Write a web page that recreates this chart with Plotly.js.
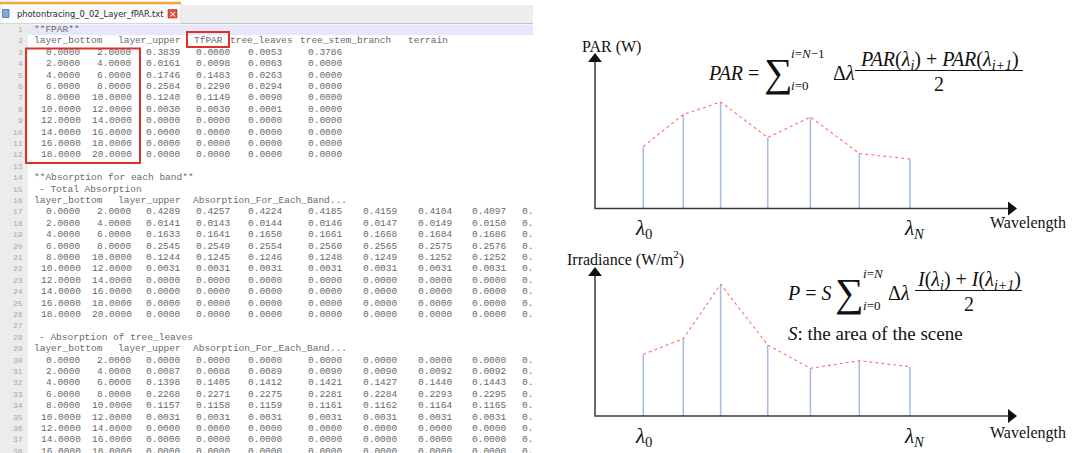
<!DOCTYPE html>
<html><head><meta charset="utf-8">
<script src="https://cdn.plot.ly/plotly-3.0.1.min.js"></script>
<style>html,body{margin:0;padding:0;background:#fff;overflow:hidden}#chart{width:1077px;height:453px}</style>
</head><body><div id="chart"></div>
<script>
// ================= DATA =================
const fileName = 'photontracing_0_02_Layer_fPAR.txt';
const fparTitle = '**FPAR**';
const fparHeader = ['layer_bottom', 'layer_upper', 'TfPAR', 'tree_leaves', 'tree_stem_branch', 'terrain'];
const layerBottom = [0, 2, 4, 6, 8, 10, 12, 14, 16, 18];
const layerUpper = [2, 4, 6, 8, 10, 12, 14, 16, 18, 20];
const fparTotal = [0.3839, 0.0161, 0.1746, 0.2584, 0.1240, 0.0030, 0.0000, 0.0000, 0.0000, 0.0000];
const fparTf = [0.0000, 0.0098, 0.1483, 0.2290, 0.1149, 0.0030, 0.0000, 0.0000, 0.0000, 0.0000];
const fparLeaves = [0.0053, 0.0063, 0.0263, 0.0294, 0.0090, 0.0001, 0.0000, 0.0000, 0.0000, 0.0000];
const fparStem = [0.3786, 0.0000, 0.0000, 0.0000, 0.0000, 0.0000, 0.0000, 0.0000, 0.0000, 0.0000];

const bandTitle = '**Absorption for each band**';
const totalTitle = '- Total Absorption';
const leavesTitle = '- Absorption of tree_leaves';
const bandHeader = ['layer_bottom', 'layer_upper', 'Absorption_For_Each_Band...'];
const truncatedCell = '0.';
const totalAbsorption = [
  [0.4289, 0.4257, 0.4224, 0.4185, 0.4159, 0.4104, 0.4097],
  [0.0141, 0.0143, 0.0144, 0.0146, 0.0147, 0.0149, 0.0150],
  [0.1633, 0.1641, 0.1650, 0.1661, 0.1668, 0.1684, 0.1686],
  [0.2545, 0.2549, 0.2554, 0.2560, 0.2565, 0.2575, 0.2576],
  [0.1244, 0.1245, 0.1246, 0.1248, 0.1249, 0.1252, 0.1252],
  [0.0031, 0.0031, 0.0031, 0.0031, 0.0031, 0.0031, 0.0031],
  [0.0000, 0.0000, 0.0000, 0.0000, 0.0000, 0.0000, 0.0000],
  [0.0000, 0.0000, 0.0000, 0.0000, 0.0000, 0.0000, 0.0000],
  [0.0000, 0.0000, 0.0000, 0.0000, 0.0000, 0.0000, 0.0000],
  [0.0000, 0.0000, 0.0000, 0.0000, 0.0000, 0.0000, 0.0000]
];
const leavesAbsorption = [
  [0.0000, 0.0000, 0.0000, 0.0000, 0.0000, 0.0000, 0.0000],
  [0.0087, 0.0088, 0.0089, 0.0090, 0.0090, 0.0092, 0.0092],
  [0.1398, 0.1405, 0.1412, 0.1421, 0.1427, 0.1440, 0.1443],
  [0.2268, 0.2271, 0.2275, 0.2281, 0.2284, 0.2293, 0.2295],
  [0.1157, 0.1158, 0.1159, 0.1161, 0.1162, 0.1164, 0.1165],
  [0.0031, 0.0031, 0.0031, 0.0031, 0.0031, 0.0031, 0.0031],
  [0.0000, 0.0000, 0.0000, 0.0000, 0.0000, 0.0000, 0.0000],
  [0.0000, 0.0000, 0.0000, 0.0000, 0.0000, 0.0000, 0.0000],
  [0.0000, 0.0000, 0.0000, 0.0000, 0.0000, 0.0000, 0.0000]
];

// schematic spectra (wavelength in nm, arbitrary units)
const wavelength = [400, 445, 487, 540, 588, 643, 700];
const parW = [0.62, 0.94, 1.065, 0.71, 0.915, 0.55, 0.495];
const irradiance = [0.617, 0.773, 1.317, 0.71, 0.477, 0.553, 0.493];

const parLabel = 'PAR (W)';
const irrLabel = 'Irradiance (W/m<sup>2</sup>)';
const xLabel = 'Wavelength';
const sceneNote = '<i>S</i>: the area of the scene';

// ================= LAYOUT CONSTANTS =================
const W = 1077, H = 453;
const MONO = 'Liberation Mono, Courier New, monospace';
const SERIF = 'Liberation Serif, Times New Roman, serif';
const SANS = 'DejaVu Sans, Tahoma, sans-serif';
const TXT = '#6a6a6a';
const ROW0 = 29.5, ROWH = 11.4;
const rowY = n => ROW0 + (n - 1) * ROWH;
const COL_R = [82, 133];
const COL_L = [145, 195, 247, 307, 362, 417, 471, 521];
const FPAR_HDR_X = [33, 117, 193, 229, 299, 407];
const BAND_HDR_X = [33, 117, 192];
const f4 = v => v.toFixed(4);

const annotations = [];
const shapes = [];
function ann(x, y, text, o) {
  annotations.push(Object.assign({x: x, y: y, xref: 'x', yref: 'y', text: text, showarrow: false,
    xanchor: 'left', yanchor: 'middle', borderpad: 0,
    font: {family: MONO, size: 9.5, color: TXT}}, o || {}));
}
function rect(x0, y0, x1, y1, o) {
  shapes.push(Object.assign({type: 'rect', xref: 'x', yref: 'y', x0: x0, y0: y0, x1: x1, y1: y1,
    line: {width: 0}, layer: 'below'}, o || {}));
}
function hline(x0, x1, y, o) {
  shapes.push(Object.assign({type: 'line', xref: 'x', yref: 'y', x0: x0, x1: x1, y0: y, y1: y,
    line: {color: '#000', width: 1}}, o || {}));
}

// ---------- editor chrome ----------
rect(0, 5, 533, 23.5, {fillcolor: '#eeeeee'});
hline(0, 533, 23.5, {line: {color: '#c4c4c4', width: 1}, layer: 'below'});
rect(0, 3, 181, 23.5, {fillcolor: '#fbfbfb', line: {color: '#cfcfcf', width: 0.6}});
hline(0, 181, 3, {line: {color: '#f5a43c', width: 2.5}});
rect(28, 24.5, 533, 35.3, {fillcolor: '#e7e7fb'});
rect(0, 24, 28, H, {fillcolor: '#ececec'});
rect(2.5, 9.5, 9, 17.5, {fillcolor: '#86a8dc', line: {color: '#3f6db5', width: 0.8}, layer: 'above'});
rect(168, 9.5, 177, 18, {fillcolor: '#e05043', line: {color: '#b02a20', width: 0.6}, layer: 'above'});
ann(172.5, 13.7, '×', {xanchor: 'center', font: {family: SANS, size: 9, color: '#ffffff'}});
ann(16, 13.5, fileName, {font: {family: SANS, size: 8.3, color: '#2c2c2c'}});

// ---------- text file ----------
const lastRow = 38;
for (let n = 1; n <= lastRow; n++) {
  ann(24, rowY(n), String(n), {xanchor: 'right', font: {family: MONO, size: 8, color: '#a8a8a8'}});
}
ann(33, rowY(1), fparTitle);
fparHeader.forEach((h, i) => ann(FPAR_HDR_X[i], rowY(2), h));
layerBottom.forEach((lb, i) => {
  const y = rowY(3 + i);
  ann(COL_R[0], y, f4(lb), {xanchor: 'right'});
  ann(COL_R[1], y, f4(layerUpper[i]), {xanchor: 'right'});
  [fparTotal[i], fparTf[i], fparLeaves[i], fparStem[i]].forEach((v, k) => ann(COL_L[k], y, f4(v)));
});
ann(33, rowY(14), bandTitle);
function bandBlock(titleRow, title, rows) {
  ann(38, rowY(titleRow), title);
  bandHeader.forEach((h, i) => ann(BAND_HDR_X[i], rowY(titleRow + 1), h));
  rows.forEach((vals, i) => {
    const y = rowY(titleRow + 2 + i);
    ann(COL_R[0], y, f4(layerBottom[i]), {xanchor: 'right'});
    ann(COL_R[1], y, f4(layerUpper[i]), {xanchor: 'right'});
    vals.forEach((v, k) => ann(COL_L[k], y, f4(v)));
    ann(COL_L[7], y, truncatedCell);
  });
}
bandBlock(15, totalTitle, totalAbsorption);
bandBlock(28, leavesTitle, leavesAbsorption);

// red highlight boxes
rect(26, 48.5, 140, 163, {fillcolor: 'rgba(0,0,0,0)', line: {color: '#e0302a', width: 2}, layer: 'above'});
rect(187, 32, 229, 47, {fillcolor: 'rgba(0,0,0,0)', line: {color: '#e0302a', width: 2}, layer: 'above'});

// ---------- diagrams ----------
const X_RANGE = [306.3, 887.9];      // nm, spanning px 560..1077
const NM_PER_PX = 1.125, Y_PER_PX = 0.01;
const X_ORIGIN = 345.7, X_TIP = 820.4;
const STEM = '#a9bde8', CURVE = '#ff6f6f', AXC = '#3a3a3a';

function stems(xs, ys) {
  const X = [], Y = [];
  xs.forEach((x, i) => { X.push(x, x, null); Y.push(0, ys[i], null); });
  return {X: X, Y: Y};
}
function diagram(xa, ya, vals, yTip, yLam, yWave, label, labelX, labelY) {
  const s = stems(wavelength, vals);
  const axisEnd = 6;   // px the arrowhead reaches past the marker centre
  const traces = [
    {type: 'scatter', mode: 'lines', x: s.X, y: s.Y, xaxis: xa, yaxis: ya,
     line: {color: STEM, width: 1.6}, hoverinfo: 'skip'},
    {type: 'scatter', mode: 'lines', x: wavelength, y: vals, xaxis: xa, yaxis: ya,
     line: {color: CURVE, width: 1.1, dash: 'dot'}, hoverinfo: 'skip'},
    // axes
    {type: 'scatter', mode: 'lines', x: [X_TIP - axisEnd * NM_PER_PX, X_ORIGIN, X_ORIGIN],
     y: [0, 0, yTip - axisEnd * Y_PER_PX], xaxis: xa, yaxis: ya,
     line: {color: AXC, width: 1.5}, hoverinfo: 'skip'},
    {type: 'scatter', mode: 'markers', x: [X_TIP - axisEnd * NM_PER_PX], y: [0], xaxis: xa, yaxis: ya,
     marker: {symbol: 'triangle-right', size: 12, color: '#111', line: {width: 0}}, hoverinfo: 'skip'},
    {type: 'scatter', mode: 'markers', x: [X_ORIGIN], y: [yTip - axisEnd * Y_PER_PX], xaxis: xa, yaxis: ya,
     marker: {symbol: 'triangle-up', size: 12, color: '#111', line: {width: 0}}, hoverinfo: 'skip'}
  ];
  const ref = {xref: xa, yref: ya};
  const serif = {family: SERIF, size: 16, color: '#111'};
  annotations.push(Object.assign({}, ref, {x: labelX, y: labelY, text: label, showarrow: false,
    xanchor: 'left', yanchor: 'middle', font: serif}));
  annotations.push(Object.assign({}, ref, {x: 787.8, y: yWave, text: xLabel, showarrow: false,
    xanchor: 'left', yanchor: 'middle', font: serif}));
  const lam = {family: SERIF, size: 21, color: '#111'};
  annotations.push(Object.assign({}, ref, {x: wavelength[0], y: yLam, text: '<i>λ</i><sub>0</sub>',
    showarrow: false, xanchor: 'center', yanchor: 'middle', font: lam}));
  annotations.push(Object.assign({}, ref, {x: wavelength[wavelength.length - 1] + 5, y: yLam,
    text: '<i>λ<sub>N</sub></i>', showarrow: false, xanchor: 'center', yanchor: 'middle', font: lam}));
  return traces;
}
const traces = [].concat(
  diagram('x2', 'y2', parW, 1.555, -0.2, -0.145, parLabel, 328.8, 1.615),
  diagram('x3', 'y3', irradiance, 1.49, -0.21, -0.17, irrLabel, 311.9, 1.58)
);
// invisible anchor trace keeping the pixel frame axis alive
traces.unshift({type: 'scatter', mode: 'markers', x: [0], y: [0], marker: {opacity: 0}, hoverinfo: 'skip'});

// ---------- formulas (pixel frame) ----------
const MF = {family: SERIF, size: 20, color: '#111'};
const LIM = {family: SERIF, size: 13, color: '#111'};
const SIG = {family: SERIF, size: 40, color: '#111'};
function formula(o) {
  ann(o.lhsX, o.y, o.lhs, {font: MF});
  ann(o.sigX, o.y - 1, '∑', {font: SIG});
  ann(o.limX, o.y - 20, o.sup, {font: LIM});
  ann(o.limX, o.y + 12, '<i>i</i>=0', {font: LIM});
  ann(o.dlX, o.y, 'Δ<i>λ</i>', {font: MF});
  ann((o.fx0 + o.fx1) / 2, o.y - 12.5, o.num, {xanchor: 'center', font: MF});
  hline(o.fx0, o.fx1, o.y - 2.5, {line: {color: '#111', width: 1}});
  ann((o.fx0 + o.fx1) / 2, o.y + 10.5, '2', {xanchor: 'center', font: MF});
}
formula({y: 73, lhsX: 707, lhs: '<i>PAR</i> =', sigX: 763, limX: 790, sup: '<i>i</i>=<i>N</i>−1', dlX: 832,
  fx0: 855, fx1: 1023, num: '<i>PAR</i>(<i>λ<sub>i</sub></i>) + <i>PAR</i>(<i>λ<sub>i+1</sub></i>)'});
formula({y: 293, lhsX: 786, lhs: '<i>P</i> = <i>S</i>', sigX: 834, limX: 862, sup: '<i>i</i>=<i>N</i>', dlX: 887,
  fx0: 915, fx1: 1022, num: '<i>I</i>(<i>λ<sub>i</sub></i>) + <i>I</i>(<i>λ<sub>i+1</sub></i>)'});
ann(787, 333, sceneNote, {font: {family: SERIF, size: 19, color: '#111'}});

const layout = {
  width: W, height: H, margin: {l: 0, r: 0, t: 0, b: 0},
  paper_bgcolor: '#ffffff', plot_bgcolor: 'rgba(0,0,0,0)', showlegend: false,
  xaxis: {domain: [0, 1], range: [0, W], visible: false, fixedrange: true},
  yaxis: {domain: [0, 1], range: [H, 0], visible: false, fixedrange: true},
  xaxis2: {domain: [560 / W, 1], range: X_RANGE, visible: false, anchor: 'y2'},
  yaxis2: {domain: [1 - 240 / H, 1 - 30 / H], range: [-0.315, 1.785], visible: false, anchor: 'x2'},
  xaxis3: {domain: [560 / W, 1], range: X_RANGE, visible: false, anchor: 'y3'},
  yaxis3: {domain: [0, 1 - 245 / H], range: [-0.37, 1.71], visible: false, anchor: 'x3'},
  shapes: shapes, annotations: annotations
};
Plotly.newPlot('chart', traces, layout, {staticPlot: true, displayModeBar: false});
</script></body></html>
